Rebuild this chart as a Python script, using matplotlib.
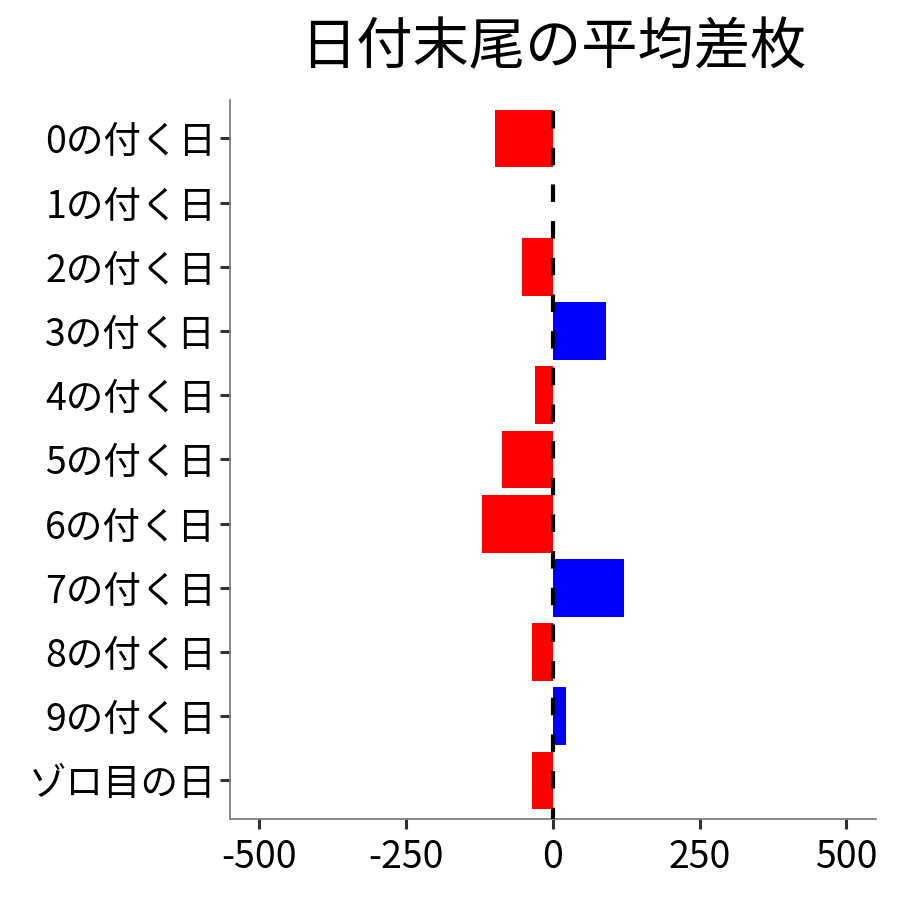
import numpy as np
import matplotlib
matplotlib.use("Agg")
import matplotlib.pyplot as plt

plt.rcParams["font.family"] = ["Noto Sans CJK JP", "DejaVu Sans"]

labels = ["0の付く日", "1の付く日", "2の付く日", "3の付く日", "4の付く日",
          "5の付く日", "6の付く日", "7の付く日", "8の付く日", "9の付く日",
          "ゾロ目の日"]
values = [-99, 0, -53, 91, -31, -86, -121, 121, -36, 23, -36]
xticks = [-500, -250, 0, 250, 500]

colors = ["blue" if v > 0 else "red" for v in values]
ypos = np.arange(len(labels))[::-1] + 1

fig = plt.figure(figsize=(9, 9), dpi=100)
ax = fig.add_axes([0.2556, 0.09, 0.7174, 0.799])

ax.barh(ypos, values, height=0.9, color=colors, zorder=2)
ax.axvline(0, color="black", ls=(1.5, (4.2, 4.6)), lw=3.0, zorder=3)

ax.set_xlim(-550, 550)
ax.set_ylim(0.4, len(labels) + 0.6)
ax.set_xticks(xticks)
ax.set_xticklabels([str(t) for t in xticks])
ax.set_yticks(ypos)
ax.set_yticklabels(labels)
ax.tick_params(axis="both", labelsize=27, length=7, width=2.2, color="#333333",
               labelcolor="black")
ax.tick_params(axis="x", pad=7)
ax.tick_params(axis="y", pad=3)

for side in ["top", "right"]:
    ax.spines[side].set_visible(False)
for side in ["left", "bottom"]:
    ax.spines[side].set_color("#777777")
    ax.spines[side].set_linewidth(1.2)

fig.text(0.6146, 0.946, "日付末尾の平均差枚", ha="center", va="center", fontsize=40.5)

fig.savefig("out.png", dpi=100)
